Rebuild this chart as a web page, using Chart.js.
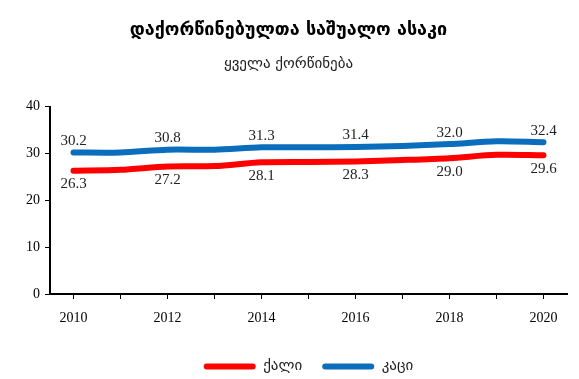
<!DOCTYPE html>
<html>
<head>
<meta charset="utf-8">
<script src="https://cdn.jsdelivr.net/npm/chart.js@4/dist/chart.umd.min.js"></script>
<style>
html,body{margin:0;padding:0;background:#fff;}
#wrap{width:579px;height:379px;position:relative;}
</style>
</head>
<body>
<div id="wrap"><canvas id="c" width="579" height="379"></canvas></div>
<script>
const years = ["2010","2011","2012","2013","2014","2015","2016","2017","2018","2019","2020"];
const women = [26.3, 26.5, 27.2, 27.3, 28.1, 28.2, 28.3, 28.6, 29.0, 29.7, 29.6];
const men = [30.2, 30.2, 30.8, 30.8, 31.3, 31.3, 31.4, 31.6, 32.0, 32.6, 32.4];
const yTicks = [0, 10, 20, 30, 40];
const titleText = "დაქორწინებულთა საშუალო ასაკი";
const subtitleText = "ყველა ქორწინება";
const seriesNames = ["ქალი", "კაცი"];

const serif = "'Liberation Serif', 'DejaVu Serif', serif";
const geo = "'DejaVu Sans', 'DejaVu Serif', sans-serif";

const labelPlugin = {
  id: 'valueLabels',
  afterDatasetsDraw(chart) {
    const ctx = chart.ctx;
    ctx.save();
    ctx.font = "15px " + serif;
    ctx.fillStyle = "#222";
    ctx.textAlign = "center";
    chart.data.datasets.forEach((ds, di) => {
      const meta = chart.getDatasetMeta(di);
      meta.data.forEach((pt, i) => {
        if (i % 2 !== 0) return;
        const v = ds.data[i].toFixed(1);
        if (di === 1) {
          ctx.textBaseline = "bottom";
          ctx.fillText(v, pt.x, pt.y - 4);
        } else {
          ctx.textBaseline = "top";
          ctx.fillText(v, pt.x, pt.y + 6);
        }
      });
    });
    ctx.restore();
  }
};

new Chart(document.getElementById('c'), {
  type: 'line',
  data: {
    labels: years,
    datasets: [
      {label: seriesNames[0], data: women, borderColor: '#FF0000', backgroundColor: '#FF0000',
       borderWidth: 6, pointRadius: 0, tension: 0.3, borderCapStyle: 'round'},
      {label: seriesNames[1], data: men, borderColor: '#0A6EBD', backgroundColor: '#0A6EBD',
       borderWidth: 6, pointRadius: 0, tension: 0.3, borderCapStyle: 'round'}
    ]
  },
  options: {
    responsive: false,
    animation: false,
    devicePixelRatio: 1,
    layout: {padding: {left: 10, right: 12, top: 8, bottom: -5}},
    plugins: {
      title: {display: true, text: titleText, color: '#000',
              font: {family: geo, size: 18, weight: 'bold'}, padding: {top: 12, bottom: 14}},
      subtitle: {display: true, text: subtitleText, color: '#222',
              font: {family: geo, size: 15}, padding: {bottom: 33}},
      legend: {position: 'bottom', fullSize: false,
        labels: {
          color: '#222', font: {family: geo, size: 15}, boxWidth: 52, boxHeight: 6,
          useBorderRadius: true, borderRadius: 3, padding: 20,
          generateLabels(chart) {
            return chart.data.datasets.map((ds, i) => ({
              text: ds.label, fillStyle: ds.borderColor, strokeStyle: ds.borderColor,
              lineWidth: 0, datasetIndex: i, borderRadius: 3, fontColor: '#222'
            }));
          }
        }
      },
      tooltip: {enabled: false}
    },
    scales: {
      x: {
        offset: true,
        grid: {offset: false, drawOnChartArea: false, color: '#000', tickLength: 5, tickWidth: 1},
        border: {color: '#000', width: 2},
        ticks: {autoSkip: false, maxRotation: 0, color: '#000', padding: 11,
                font: {family: serif, size: 14},
                callback: function(v, i) { return i % 2 === 0 ? years[i] : ''; }},
        afterFit(s) { s.height = 45; }
      },
      y: {
        min: 0, max: 40,
        afterBuildTicks(s) { s.ticks = yTicks.map(v => ({value: v})); },
        grid: {drawOnChartArea: false, color: '#000', tickLength: 5, tickWidth: 1},
        border: {color: '#000', width: 2},
        ticks: {color: '#000', padding: 5, font: {family: serif, size: 14}},
        afterFit(s) { s.width = 40; }
      }
    }
  },
  plugins: [labelPlugin]
});
</script>
</body>
</html>
